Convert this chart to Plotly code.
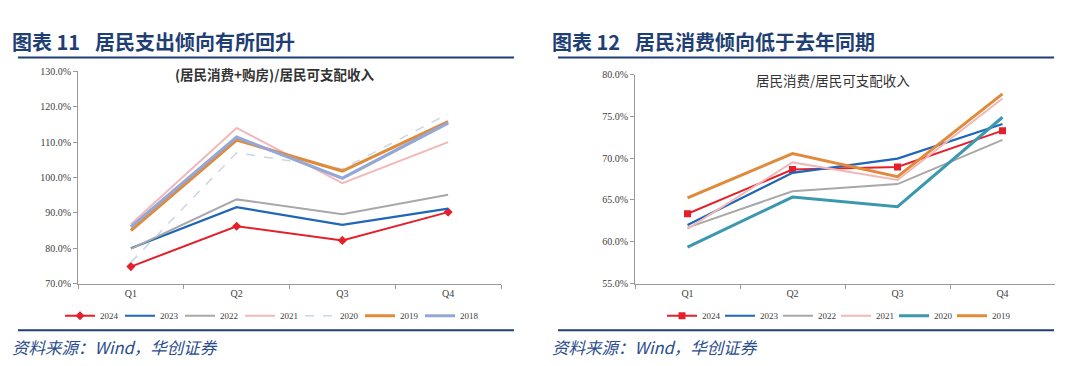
import plotly.graph_objects as go

quarters = ["Q1", "Q2", "Q3", "Q4"]

# Left chart: (居民消费+购房)/居民可支配收入, %
left_2024 = [74.8, 86.2, 82.2, 90.2]
left_2023 = [80.0, 91.6, 86.6, 91.2]
left_2022 = [79.8, 93.8, 89.6, 95.1]
left_2021 = [86.8, 114.0, 98.4, 110.0]
left_2020 = [76.0, 107.0, 102.4, 118.0]
left_2019 = [85.0, 110.6, 101.8, 115.8]
left_2018 = [86.0, 111.4, 99.8, 115.4]

# Right chart: 居民消费/居民可支配收入, %
right_2024 = [63.35, 68.65, 68.95, 73.3]
right_2023 = [62.0, 68.25, 69.95, 74.1]
right_2022 = [61.7, 66.05, 66.9, 72.2]
right_2021 = [61.55, 69.5, 67.4, 77.15]
right_2020 = [59.35, 65.35, 64.2, 74.9]
right_2019 = [65.25, 70.55, 67.8, 77.7]

left_ticks = [70, 80, 90, 100, 110, 120, 130]
right_ticks = [55, 60, 65, 70, 75, 80]
left_ticktext = [f"{v:.1f}%" for v in left_ticks]
right_ticktext = [f"{v:.1f}%" for v in right_ticks]

W, H = 1080, 366
def px(x): return x / W
def py(y): return 1 - y / H

C2024 = "#E3202B"
C2023 = "#1F66B8"
C2022 = "#A8A8A8"
C2021 = "#F2B8B8"
C2020L = "#C9D6E3"
C2020R = "#3B98AE"
C2019 = "#E08A3C"
C2018 = "#93A8D6"

fig = go.Figure()

left = [
    ("2024", left_2024, dict(color=C2024, width=2), dict(symbol="diamond", size=7, color=C2024), "lines+markers"),
    ("2023", left_2023, dict(color=C2023, width=2.2), None, "lines"),
    ("2022", left_2022, dict(color=C2022, width=2), None, "lines"),
    ("2021", left_2021, dict(color=C2021, width=2), None, "lines"),
    ("2020", left_2020, dict(color=C2020L, width=1.5, dash="dash"), None, "lines"),
    ("2019", left_2019, dict(color=C2019, width=3.2), None, "lines"),
    ("2018", left_2018, dict(color=C2018, width=3.2), None, "lines"),
]
for name, vals, line, marker, mode in left:
    kw = dict(marker=marker) if marker else {}
    fig.add_trace(go.Scatter(x=quarters, y=vals, name=name, mode=mode, line=line,
                             xaxis="x", yaxis="y", legend="legend", **kw))

right = [
    ("2024", right_2024, dict(color=C2024, width=2), dict(symbol="square", size=7, color=C2024), "lines+markers"),
    ("2023", right_2023, dict(color=C2023, width=2.2), None, "lines"),
    ("2022", right_2022, dict(color=C2022, width=2), None, "lines"),
    ("2021", right_2021, dict(color=C2021, width=2), None, "lines"),
    ("2020", right_2020, dict(color=C2020R, width=3), None, "lines"),
    ("2019", right_2019, dict(color=C2019, width=3), None, "lines"),
]
for name, vals, line, marker, mode in right:
    kw = dict(marker=marker) if marker else {}
    fig.add_trace(go.Scatter(x=quarters, y=vals, name=name, mode=mode, line=line,
                             xaxis="x2", yaxis="y2", legend="legend2", **kw))

tickfont = dict(family="Liberation Serif", size=10, color="#404040")
xcommon = dict(type="category", showgrid=False, showline=True, linecolor="#9A9A9A", linewidth=1,
               ticks="outside", tickson="boundaries", ticklen=4, tickcolor="#9A9A9A",
               tickfont=tickfont, range=[-0.5, 3.5], zeroline=False, fixedrange=True)
ycommon = dict(showgrid=False, showline=True, linecolor="#9A9A9A", linewidth=1, ticks="outside",
               ticklen=4, tickcolor="#9A9A9A", tickfont=tickfont, tickmode="array",
               zeroline=False, fixedrange=True)

fig.update_layout(
    width=W, height=H, margin=dict(l=0, r=0, t=0, b=0),
    paper_bgcolor="white", plot_bgcolor="white",
    xaxis=dict(domain=[px(70), px(493)], anchor="y", **xcommon),
    yaxis=dict(domain=[py(278.7), py(59.3)], anchor="x", range=[70, 130], tickvals=left_ticks,
               ticktext=left_ticktext, **ycommon),
    xaxis2=dict(domain=[px(627), px(1047)], anchor="y2", **xcommon),
    yaxis2=dict(domain=[py(278.7), py(62.7)], anchor="x2", range=[55, 80], tickvals=right_ticks,
                ticktext=right_ticktext, **ycommon),
    legend=dict(orientation="h", x=px(262), xanchor="center", y=py(312), yanchor="middle",
                font=dict(family="Liberation Serif", size=9, color="#404040"),
                itemwidth=30, entrywidth=15, entrywidthmode="pixels", tracegroupgap=0,
                bgcolor="rgba(0,0,0,0)"),
    legend2=dict(orientation="h", x=px(828), xanchor="center", y=py(312), yanchor="middle",
                 font=dict(family="Liberation Serif", size=9, color="#404040"),
                 itemwidth=30, entrywidth=13, entrywidthmode="pixels", tracegroupgap=0,
                 bgcolor="rgba(0,0,0,0)"),
    showlegend=True,
)

navy = "#1F3F74"
shapes = []
for x0, x1 in [(10, 506), (550, 1046)]:
    shapes.append(dict(type="line", xref="paper", yref="paper", x0=px(x0), x1=px(x1),
                       y0=py(45), y1=py(45), line=dict(color=navy, width=2.2)))
    shapes.append(dict(type="line", xref="paper", yref="paper", x0=px(x0), x1=px(x1),
                       y0=py(327), y1=py(327), line=dict(color=navy, width=2)))
fig.update_layout(shapes=shapes)

anns = [
    dict(text="<b>图表 11</b>", x=2),
    dict(text="<b>居民支出倾向有所回升</b>", x=85),
    dict(text="<b>图表 12</b>", x=542),
    dict(text="<b>居民消费倾向低于去年同期</b>", x=625),
]
annotations = []
for a in anns:
    annotations.append(dict(text=a["text"], x=px(a["x"]), y=py(28), xref="paper", yref="paper",
                            xanchor="left", yanchor="middle", showarrow=False,
                            font=dict(family="Noto Sans CJK SC", size=20, color=navy)))
for x0 in (2, 542):
    annotations.append(dict(text="<i>资料来源：Wind，华创证券</i>", x=px(x0), y=py(344), xref="paper", yref="paper",
                            xanchor="left", yanchor="middle", showarrow=False,
                            font=dict(family="Noto Sans CJK SC", size=16.5, color="#2B4C8C")))
annotations.append(dict(text="<b>(居民消费+购房)/居民可支配收入</b>", x=px(266), y=py(62), xref="paper", yref="paper",
                        xanchor="center", yanchor="middle", showarrow=False,
                        font=dict(family="Noto Sans CJK SC", size=13.5, color="#333333")))
annotations.append(dict(text="居民消费/居民可支配收入", x=px(825), y=py(68), xref="paper", yref="paper",
                        xanchor="center", yanchor="middle", showarrow=False,
                        font=dict(family="Noto Sans CJK SC", size=13.5, color="#333333")))
fig.update_layout(annotations=annotations)

fig.write_html("out.html")
